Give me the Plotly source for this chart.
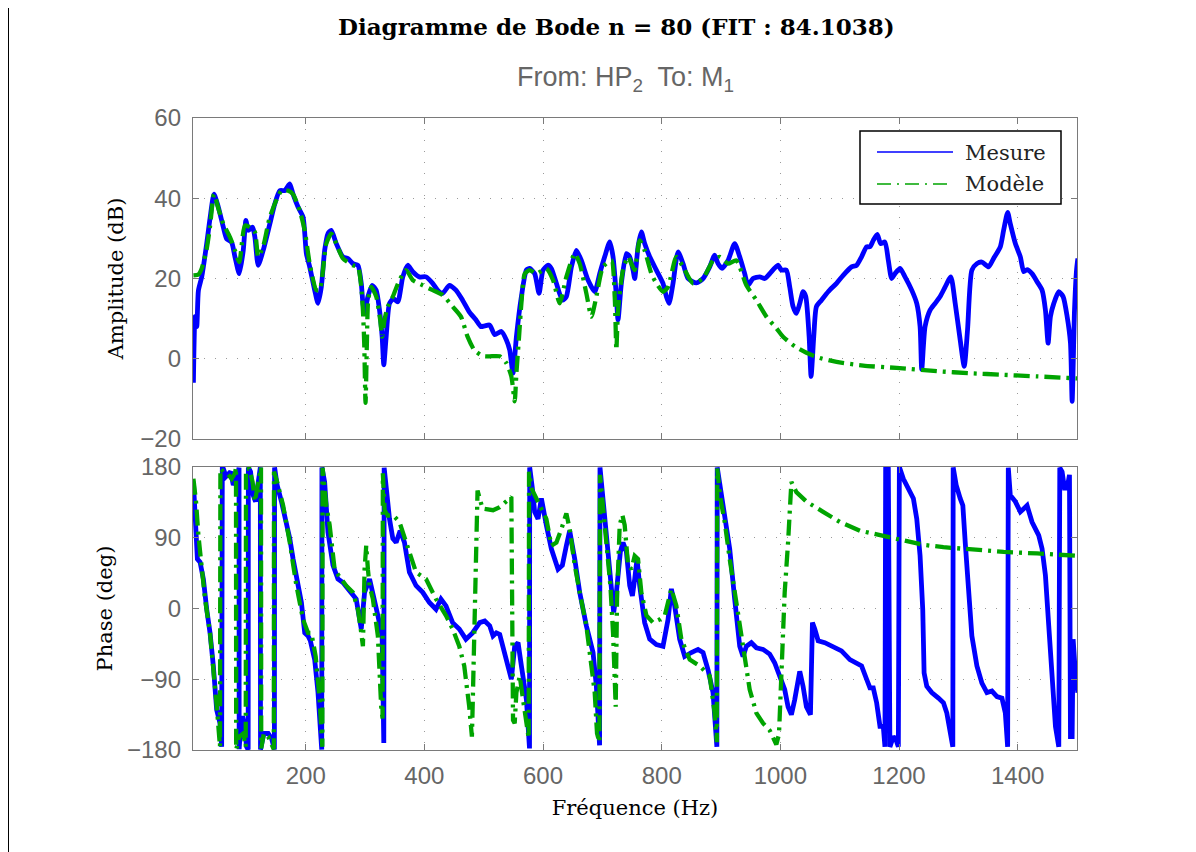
import plotly.graph_objects as go

# ---------------- data ----------------
freq_amp_mes = [10.7, 13.5, 16.3, 19.1, 24.7, 33.1, 38.7, 45.4, 52.7, 61.1, 66.7, 75.1, 80.7, 88.0, 94.7, 99.2,
                103.1, 110.4, 114.3, 119.9, 128.3, 139.5, 147.9, 156.3, 164.7, 168.6, 173.1, 178.7, 187.1, 195.5,
                201.1, 206.7, 215.1, 220.7, 226.3, 231.9, 237.5, 243.1, 251.5, 262.7, 271.1, 279.5, 288.0, 293.6,
                296.4, 299.2, 304.8, 312.0, 318.8, 324.4, 328.8, 331.6, 335.6, 341.2, 347.9, 355.2, 363.6, 372.0,
                380.4, 391.6, 402.8, 414.0, 422.4, 430.8, 442.0, 453.2, 464.4, 475.6, 486.8, 495.2, 501.7, 510.1,
                518.5, 529.8, 538.2, 543.8, 549.4, 555.1, 563.5, 572.0, 577.5, 585.9, 593.3, 600.0, 608.4, 614.0,
                622.5, 632.6, 639.3, 647.8, 656.2, 664.6, 675.8, 687.1, 695.5, 703.9, 712.4, 718.0, 723.6, 726.4,
                732.0, 740.5, 746.1, 751.7, 754.5, 760.1, 765.7, 771.3, 779.8, 791.0, 802.2, 807.9, 812.4, 819.1,
                827.5, 836.0, 844.4, 858.4, 869.7, 880.9, 889.3, 895.0, 901.7, 911.8, 923.0, 931.5, 939.9, 945.5,
                953.9, 965.2, 973.6, 982.0, 996.1, 1001.7, 1010.1, 1015.8, 1021.4, 1027.0, 1032.7, 1038.3, 1042.8,
                1048.5, 1051.8, 1056.3, 1060.8, 1069.3, 1080.6, 1094.7, 1105.9, 1120.0, 1128.5, 1136.9, 1145.4,
                1151.0, 1156.6, 1163.4, 1169.0, 1176.3, 1182.0, 1187.6, 1193.2, 1201.7, 1210.1, 1221.4, 1229.9,
                1235.5, 1238.3, 1243.9, 1252.4, 1260.9, 1269.3, 1277.8, 1287.3, 1294.7, 1303.1, 1309.9, 1315.5,
                1322.8, 1331.3, 1339.7, 1351.0, 1359.4, 1370.7, 1376.3, 1383.1, 1387.6, 1396.1, 1404.5, 1410.2,
                1415.8, 1424.2, 1432.7, 1441.1, 1446.8, 1451.3, 1455.2, 1460.9, 1469.3, 1476.6, 1483.4, 1489.0,
                1491.8, 1495.8, 1499.2, 1501.4]
amp_mes = [-6.0, 10.5, 8.0, 17.0, 20.4, 28.7, 35.0, 41.0, 37.8, 32.8, 29.9, 29.0, 25.4, 21.2, 27.0, 34.5,
           32.0, 32.8, 30.3, 23.3, 27.0, 33.6, 38.6, 41.9, 41.9, 42.7, 43.6, 41.0, 37.8, 35.3,
           26.2, 22.9, 17.1, 13.8, 17.9, 27.0, 31.2, 32.0, 28.7, 25.4, 25.0, 23.7, 23.3, 18.8,
           13.8, 11.3, 15.5, 18.3, 17.1, 12.1, 5.5, -1.5, 5.5, 13.8, 15.0, 14.2, 20.4, 23.3,
           21.7, 20.4, 20.4, 18.8, 17.1, 16.3, 18.3, 17.1, 14.6, 11.7, 9.7, 8.0, 8.2, 8.4,
           6.0, 6.8, 4.7, 2.2, -3.6, 5.5, 15.5, 22.1, 22.5, 21.2, 16.3, 22.1, 23.3, 22.5,
           18.8, 14.6, 15.5, 22.9, 27.0, 24.5, 19.6, 16.7, 21.2, 25.4, 29.1, 25.4, 15.5, 9.7,
           18.8, 26.2, 25.4, 22.1, 20.0, 27.9, 31.6, 28.7, 25.4, 22.1, 18.8, 15.5, 13.8, 18.8,
           26.6, 23.7, 20.0, 18.9, 20.0, 22.9, 25.8, 23.7, 22.5, 24.5, 28.7, 25.4, 21.2, 18.3,
           20.0, 20.4, 20.0, 21.2, 23.3, 22.1, 22.1, 17.9, 13.0, 11.3, 13.8, 16.7, 15.5,
           5.5, -4.4, 5.5, 13.0, 14.6, 16.7, 18.8, 20.8, 22.9, 23.3, 25.4, 27.9,
           27.9, 29.5, 31.0, 28.7, 29.1, 24.5, 20.0, 21.2, 22.5, 20.4, 17.1, 13.8,
           8.0, -2.7, 8.0, 12.1, 13.8, 15.5, 17.9, 20.4, 13.8, 4.7, -1.9, 7.2,
           22.1, 23.7, 24.1, 22.9, 25.0, 27.9, 32.0, 36.5, 33.6, 28.7, 25.4, 21.7,
           22.2, 21.2, 19.2, 17.1, 12.1, 3.9, 10.5, 13.8, 16.7, 15.5, 10.5, 3.9,
           -10.6, 12.1, 22.1, 25.0]

freq_amp_mod = [10.7, 19.1, 24.7, 33.1, 38.7, 45.4, 52.7, 61.1, 72.3, 80.7, 88.0, 97.5, 105.9, 114.3, 119.9,
                128.3, 139.5, 159.1, 170.3, 178.7, 189.9, 198.3, 206.7, 217.9, 223.5, 234.7, 243.1, 251.5,
                262.7, 279.5, 288.0, 293.6, 296.4, 298.6, 300.8, 303.1, 305.3, 310.4, 318.8, 325.5, 328.8,
                332.8, 338.4, 346.8, 358.0, 369.2, 380.4, 397.2, 414.0, 430.8, 447.6, 461.6, 472.8, 484.0,
                498.0, 509.2, 527.0, 538.2, 546.6, 552.2, 555.1, 559.6, 563.5, 569.2, 577.5, 588.8, 605.6,
                616.9, 628.1, 639.3, 653.4, 661.8, 673.0, 681.5, 689.9, 701.1, 715.2, 720.8, 723.6, 726.4,
                734.8, 743.3, 748.9, 754.5, 762.9, 771.3, 782.6, 791.0, 802.2, 810.7, 824.7, 836.0, 852.8,
                869.7, 886.5, 897.8, 911.8, 925.8, 942.7, 959.6, 976.4, 993.3, 1004.5, 1024.2, 1043.9,
                1066.5, 1094.7, 1139.7, 1196.1, 1263.7, 1320.0, 1376.3, 1432.7, 1500.3]
amp_mod = [20.8, 21.0, 22.5, 27.4, 33.0, 41.0, 37.5, 33.6, 30.3, 27.0, 24.1, 33.2, 32.8, 31.6, 25.4,
           28.0, 35.3, 41.9, 41.9, 41.0, 36.9, 32.0, 23.7, 17.1, 17.1, 28.7, 31.2, 28.7,
           25.0, 23.3, 22.9, 17.9, 12.1, 3.9, -11.0, 3.9, 14.6, 17.9, 15.5, 9.7, 5.5,
           9.7, 13.0, 15.5, 19.6, 22.1, 19.6, 18.3, 17.1, 15.9, 13.0, 10.5, 5.5, 2.2,
           0.7, 0.6, 0.6, -1.1, -4.4, -10.6, -3.6, 5.5, 13.8, 21.2, 22.1, 21.2, 22.5,
           19.6, 13.8, 20.4, 26.2, 23.7, 16.3, 10.5, 15.5, 22.9, 24.5, 15.5, 2.2, 12.1,
           22.1, 25.4, 23.7, 22.1, 29.5, 27.0, 21.2, 18.8, 16.7, 17.9, 25.4, 22.9, 18.8,
           20.0, 24.5, 25.4, 23.7, 24.5, 18.3, 14.6, 10.5, 7.6, 5.5, 3.1, 1.5,
           0.2, -0.8, -1.7, -2.3, -3.1, -3.6, -4.0, -4.4, -4.9]

freq_ph_mes = [10.7, 12.9, 15.1, 17.4, 21.9, 27.5, 33.1, 38.7, 44.3, 49.9, 55.5, 58.3, 59.4, 61.1, 65.6,
               69.5, 73.4, 77.9, 82.4, 86.3, 87.6, 87.8, 90.3, 93.6, 96.4, 100.3, 103.0, 103.3, 107.0,
               111.5, 115.4, 119.9, 122.7, 123.5, 123.8, 129.4, 136.7, 142.3, 146.2, 147.2, 147.5, 151.8,
               159.1, 167.5, 173.1, 178.7, 184.3, 192.7, 198.3, 203.9, 207.8, 215.1, 220.7, 226.3, 227.0,
               227.3, 231.9, 237.5, 245.9, 254.3, 262.7, 271.1, 279.5, 285.1, 293.6, 299.2, 307.6, 313.2,
               321.6, 328.8, 331.6, 332.2, 335.6, 341.2, 346.8, 352.4, 359.1, 366.4, 374.8, 386.0, 397.2,
               408.4, 419.6, 428.0, 436.4, 447.6, 458.8, 470.0, 481.2, 493.3, 501.7, 510.1, 515.7, 521.3,
               527.0, 532.6, 538.2, 546.6, 552.2, 557.9, 563.5, 572.0, 577.2, 577.5, 582.0, 585.9, 591.6,
               597.2, 605.6, 614.0, 625.3, 632.6, 639.3, 644.9, 653.4, 661.8, 673.0, 684.3, 689.9, 695.3,
               696.0, 701.1, 707.9, 715.2, 719.1, 723.6, 730.3, 734.8, 740.5, 746.1, 750.6, 754.5, 758.4,
               762.9, 771.3, 779.8, 791.0, 802.2, 810.7, 816.3, 821.9, 830.3, 838.8, 850.0, 861.2, 869.7,
               878.1, 886.5, 893.0, 893.6, 898.9, 906.2, 914.6, 923.0, 931.5, 937.1, 942.7, 951.1, 959.6,
               970.8, 982.0, 990.4, 998.9, 1007.3, 1013.0, 1018.6, 1024.2, 1032.7, 1038.3, 1043.9, 1050.7,
               1054.1, 1058.0, 1063.7, 1074.9, 1089.0, 1103.1, 1117.2, 1128.5, 1136.9, 1145.4, 1151.0,
               1156.6, 1162.3, 1167.9, 1173.5, 1176.3, 1177.5, 1182.0, 1184.6, 1190.4, 1194.9, 1198.9,
               1200.6, 1207.3, 1215.8, 1224.2, 1229.9, 1235.5, 1240.0, 1242.3, 1246.8, 1255.2, 1266.5,
               1274.9, 1280.6, 1286.2, 1290.7, 1291.3, 1296.4, 1303.1, 1307.6, 1311.6, 1317.2, 1322.8,
               1331.3, 1339.7, 1348.2, 1356.6, 1365.1, 1373.5, 1379.2, 1383.1, 1384.2, 1387.6, 1396.1,
               1404.5, 1410.2, 1415.8, 1424.2, 1435.5, 1441.1, 1446.8, 1452.4, 1458.0, 1463.7, 1469.3,
               1471.0, 1474.9, 1478.9, 1483.4, 1487.3, 1489.0, 1491.8, 1493.5, 1497.5, 1501.4]
ph_mes = [161, 131, 97, 63, 59, 37.5, -1, -31, -73, -129, -146, -176, 180, 178, 168,
          172, 174, 157, 165, 174, 179, -179, -150, -137, -146, -176, -179.5, 179.5, 174,
          144, 136, 157, 178, 179.5, -179.5, -159, -159, -165, -176, -179.5, 179.5, 157,
          136, 110, 89, 63, 37.5, 7.7, -31, -35, -41, -65, -107, -176, -179.5,
          179.5, 161, 97, 55, 37.5, 33, 25, 18, 12, -26, 20.5, 37.5, 20.5,
          -9, -35, -171, 179, 148, 114, 89, 84, 99, 84, 46, 29, 20.5,
          7.7, -1, 12, 3.4, -18, -26, -39, -31, -18, -16, -22, -35, -31,
          -33, -48, -65, -90, -48, -43.5, -73, -116, -178, 179.5, 153, 123, 114,
          140, 106, 76, 50, 55, 80, 99, 63, 20.5, -22, -56, -99, -174,
          179.5, 136, 84, 29, -5, 20.5, 72, 84, 72, 29, 16, 37.5, 63,
          29, -18, -39, -46, -48, -14, 25, 3.4, -39, -61, -56, -52, -56,
          -78, -107, -176, 179.5, 153, 123, 76, 12, -48, -61, -48, -43.5, -50,
          -52, -58, -69, -86, -103, -125, -135, -116, -80, -99, -125, -135,
          -18, -26, -41, -43.5, -48, -54, -65, -69, -73, -90, -101,
          -101, -120, -150, -150, -176, 180, 178, -176, -163, -167, -176,
          180, 165, 153, 140, 114, 67, -1, -82, -99, -107, -114,
          -120, -133, -154, -176, 179.5, 157, 140, 131, 84, 20.5, -35,
          -73, -95, -107, -105, -112, -114, -133, -176, 179, 144, 136,
          123, 127, 131, 110, 93, 76, 42, -22, -99, -150, -176,
          179, 174, 153, 153, 170, -163, -163, -39, -86, -107]

freq_ph_mod = [10.7, 15.1, 19.1, 24.7, 30.3, 38.7, 44.3, 51.0, 55.5, 56.2, 61.1, 67.8, 75.1, 80.7, 82.5,
               82.8, 88.0, 94.7, 98.9, 99.3, 104.8, 110.4, 114.3, 119.9, 122.7, 124.6, 125.0, 129.4, 136.7,
               142.3, 146.2, 146.5, 151.8, 161.9, 173.1, 184.3, 195.5, 203.9, 209.5, 216.8, 223.5, 228.0,
               228.4, 230.3, 234.7, 240.3, 248.7, 257.1, 268.3, 279.5, 288.0, 293.6, 296.4, 299.2, 302.0,
               304.8, 307.6, 313.2, 321.6, 327.2, 329.5, 330.0, 333.0, 338.4, 346.8, 358.0, 386.0, 402.8,
               419.6, 436.4, 447.6, 458.8, 467.2, 475.6, 480.1, 481.5, 484.0, 487.0, 489.6, 498.0, 515.7,
               527.0, 538.2, 546.6, 549.4, 552.2, 555.1, 560.7, 566.3, 572.0, 575.8, 576.4, 580.3, 588.8,
               597.2, 605.6, 614.0, 622.5, 630.9, 639.3, 644.9, 653.4, 661.8, 673.0, 681.5, 687.1, 691.0,
               695.0, 696.0, 701.1, 706.7, 713.5, 718.0, 722.5, 724.7, 729.2, 733.7, 737.6, 743.3, 748.9,
               754.5, 760.1, 765.7, 774.2, 785.4, 796.6, 805.1, 816.3, 824.7, 833.1, 847.2, 864.0, 880.9,
               889.3, 893.0, 893.6, 898.9, 906.2, 914.6, 923.0, 931.5, 939.9, 948.3, 959.6, 970.8, 982.0,
               993.2, 997.7, 1001.7, 1007.3, 1013.0, 1018.6, 1027.0, 1043.9, 1072.1, 1100.3, 1134.1,
               1167.9, 1207.3, 1241.1, 1274.9, 1320.0, 1376.3, 1432.7, 1500.3]
ph_mod = [165, 136, 93, 55, 12, -31, -73, -133, -176, 178, 174, 172, 165, 172, 179.5,
          -179.5, -163, -159, -176, 178, 178, 161, 136, 157, 174, 179.5, -178, -159, -163,
          -171, -179, 174, 161, 131, 84, 29, -14, -31, -31, -61, -116, -176,
          179, 165, 131, 106, 50, 40, 29, 20.5, -1, -31, -48, 50, 80,
          50, 29, 12, -35, -125, -140, 172, 125, 118, 119, 110, 46, 37.5,
          12, -9, -26, -48, -73, -125, -163, -120, -35, 60, 150, 127, 125,
          129, 136, 142, -142, -146, -107, -86, -116, -142, -165, 174, 153, 140,
          127, 114, 80, 84, 101, 121, 101, 55, 20.5, -22, -73, -107, -159,
          -170, 170, 131, 80, 29, -31, -125, 12, 106, 119, 106, 55, 50,
          67, 63, 20.5, -9, -18, -14, -9, 25, 3.4, -39, -65, -73, -86,
          -133, -170, 178, 140, 110, 63, 20.5, -22, -65, -103, -133, -146, -155,
          -173, -160, -86, 20.5, 84, 161, 148, 136, 123, 110, 99,
          93, 87, 81, 78, 75, 72, 70, 67]

legend_names = ["Mesure", "Modèle"]
amp_ticks = [-20, 0, 20, 40, 60]
phase_ticks = [-180, -90, 0, 90, 180]
freq_ticks = [200, 400, 600, 800, 1000, 1200, 1400]

# ---------------- styling ----------------
BLUE = "#0000FF"
GREEN = "#00A400"
AXC = "#7a7a7a"
TXT = "#666666"
SERIF = "DejaVu Serif"
SANS = "Liberation Sans"
DASHDOT = "16px,6px,3px,6px"

W, H = 1196, 852
OFF = 8  # the page places the figure 8 px from the top-left corner
L, R, T, B = 185, 127, 110, 110
PW = W - L - R
PH = H - T - B


def py2paper(py):
    """screen pixel row -> paper coordinate"""
    return 1 - (py - OFF - T) / PH


def px2paper(px):
    """screen pixel column -> paper coordinate"""
    return (px - OFF - L) / PW


fig = go.Figure()
fig.add_trace(go.Scatter(x=freq_amp_mes, y=amp_mes, mode="lines", name=legend_names[0],
                         line=dict(color=BLUE, width=4.8, shape="spline", smoothing=0.6),
                         showlegend=False, xaxis="x", yaxis="y"))
fig.add_trace(go.Scatter(x=freq_amp_mod, y=amp_mod, mode="lines", name=legend_names[1],
                         line=dict(color=GREEN, width=4.3, dash=DASHDOT, shape="spline", smoothing=0.6),
                         showlegend=False, xaxis="x", yaxis="y"))
fig.add_trace(go.Scatter(x=freq_ph_mes, y=ph_mes, mode="lines", name=legend_names[0],
                         line=dict(color=BLUE, width=4.8),
                         showlegend=False, xaxis="x2", yaxis="y2"))
fig.add_trace(go.Scatter(x=freq_ph_mod, y=ph_mod, mode="lines", name=legend_names[1],
                         line=dict(color=GREEN, width=4.3, dash=DASHDOT),
                         showlegend=False, xaxis="x2", yaxis="y2"))

common_x = dict(range=[10, 1500], tickvals=freq_ticks, showgrid=True, gridcolor="#9a9a9a",
                griddash="1px,10px", gridwidth=1, zeroline=False, showline=True, linecolor=AXC,
                linewidth=1.3, mirror="ticks", ticks="inside", ticklen=6, tickcolor=AXC,
                tickfont=dict(family=SANS, size=24, color=TXT))
common_y = dict(showgrid=True, gridcolor="#9a9a9a", griddash="1px,10px", gridwidth=1, zeroline=False,
                showline=True, linecolor=AXC, linewidth=1.3, mirror="ticks", ticks="inside", ticklen=6,
                tickcolor=AXC, tickfont=dict(family=SANS, size=24, color=TXT), ticklabelstandoff=6)

fig.update_layout(
    width=W, height=H,
    margin=dict(l=L, r=R, t=T, b=B, autoexpand=False),
    paper_bgcolor="white", plot_bgcolor="white",
    showlegend=False,
    xaxis=dict(**common_x, domain=[0, 1], anchor="y", showticklabels=False),
    yaxis=dict(**common_y, domain=[py2paper(439), 1], anchor="x", range=[-20, 60], tickvals=amp_ticks,
               title=dict(text="Amplitude (dB)", font=dict(family=SERIF, size=21, color="black"), standoff=10)),
    xaxis2=dict(**common_x, domain=[0, 1], anchor="y2", ticklabelstandoff=4,
                title=dict(text="Fréquence (Hz)", font=dict(family=SERIF, size=21, color="black"), standoff=12)),
    yaxis2=dict(**common_y, domain=[0, py2paper(467)], anchor="x2", range=[-180, 180], tickvals=phase_ticks,
                title=dict(text="Phase (deg)", font=dict(family=SERIF, size=21, color="black"), standoff=8)),
)

# titles
fig.add_annotation(text="<b>Diagramme de Bode n = 80 (FIT : 84.1038)</b>", xref="paper", yref="paper",
                   x=px2paper(616), y=py2paper(26), xanchor="center", yanchor="middle", showarrow=False,
                   font=dict(family=SERIF, size=23, color="black"))
fig.add_annotation(text="From: HP<sub>2</sub>  To: M<sub>1</sub>", xref="paper", yref="paper",
                   x=px2paper(625), y=py2paper(79), xanchor="center", yanchor="middle", showarrow=False,
                   font=dict(family=SANS, size=27, color=TXT))

# legend box (drawn like the reference: long line samples)
fig.add_shape(type="rect", xref="paper", yref="paper", x0=px2paper(860), x1=px2paper(1061),
              y0=py2paper(131), y1=py2paper(204), fillcolor="white", line=dict(color="black", width=1.5),
              layer="above")
fig.add_shape(type="line", xref="paper", yref="paper", x0=px2paper(877), x1=px2paper(953),
              y0=py2paper(152), y1=py2paper(152), line=dict(color=BLUE, width=1.5), layer="above")
fig.add_shape(type="line", xref="paper", yref="paper", x0=px2paper(877), x1=px2paper(953),
              y0=py2paper(184), y1=py2paper(184), line=dict(color=GREEN, width=1.5, dash="14px,6px,2px,6px"),
              layer="above")
fig.add_annotation(text=legend_names[0], xref="paper", yref="paper", x=px2paper(963), y=py2paper(153),
                   xanchor="left", yanchor="middle", showarrow=False,
                   font=dict(family=SERIF, size=21, color="#222222"))
fig.add_annotation(text=legend_names[1], xref="paper", yref="paper", x=px2paper(963), y=py2paper(184),
                   xanchor="left", yanchor="middle", showarrow=False,
                   font=dict(family=SERIF, size=21, color="#222222"))

# page border line seen at the left edge
fig.add_shape(type="line", xref="paper", yref="paper", x0=px2paper(8.5), x1=px2paper(8.5),
              y0=py2paper(8), y1=py2paper(860), line=dict(color="black", width=1))

fig.write_html("out.html")
